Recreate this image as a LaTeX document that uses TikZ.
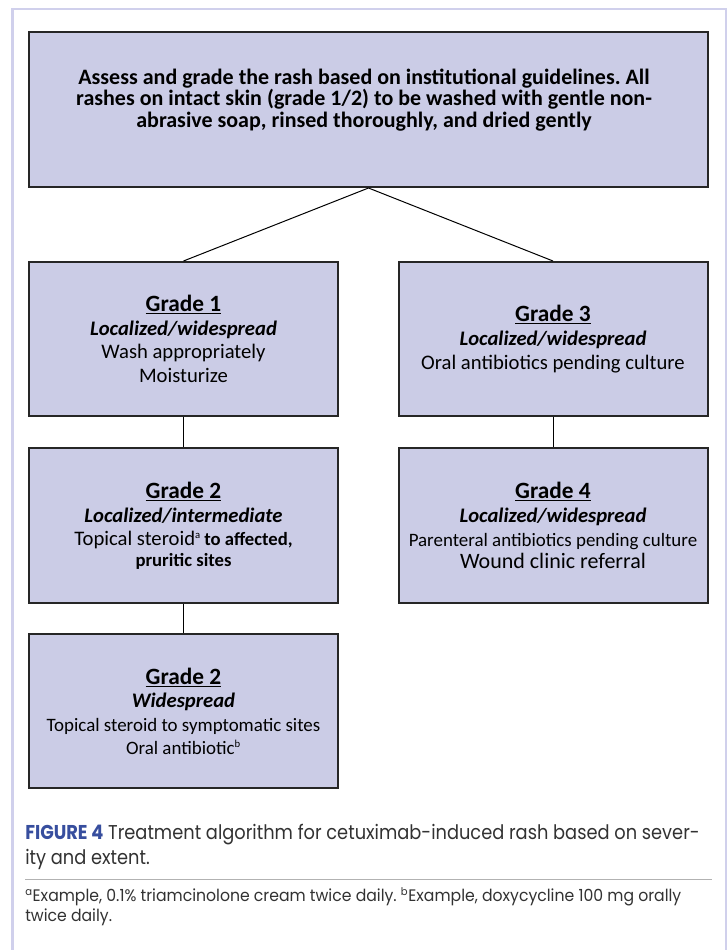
\documentclass[tikz,border=0pt]{standalone}
\usepackage{fontspec}
\setmainfont{Carlito}
\newfontfamily\capfont[FakeStretch=0.89]{Poppins}
\newfontfamily\fnfont[FakeStretch=0.94]{Poppins}
\definecolor{boxfill}{RGB}{203,204,230}
\definecolor{framecol}{RGB}{208,208,236}
\definecolor{figblue}{RGB}{55,78,158}
\definecolor{captext}{RGB}{50,50,50}
\newcommand{\ghead}[1]{{\fontsize{17.5}{17.8}\selectfont\bfseries\underline{#1}}}
\newcommand{\gsub}[1]{{\bfseries\itshape #1}}
\newcommand{\smsup}[1]{\textsuperscript{\fontsize{8}{8}\selectfont #1}}
\frenchspacing
\tikzset{
  boxnode/.style={draw=black!85, line width=1.5pt, fill=boxfill,
    minimum width={309*0.75pt}, minimum height={154*0.75pt},
    align=center, inner sep=0pt, font=\fontsize{15.5}{17.8}\selectfont},
  link/.style={draw=black, line width=0.75pt},
  captxt/.style={anchor=base west, inner sep=0pt, text=captext}
}
\begin{document}
\begin{tikzpicture}[x=0.75pt,y=-0.75pt]
\useasboundingbox (0,0) rectangle (728,950);
% frame
\draw[framecol, line width=1.9pt] (12.7,955) -- (12.7,9) -- (726,9) -- (726,955);
% boxes
\node[boxnode, minimum width={679*0.75pt}, minimum height={155*0.75pt}] (top) at (368.5,109.5) {};
\node[align=center, inner sep=0pt, font=\fontsize{16.5}{16.1}\selectfont\bfseries] (toptext) at (364,100)
  {Assess and grade the rash based on institutional guidelines. All\\
   rashes on intact skin (grade 1/2) to be washed with gentle non-\\
   abrasive soap, rinsed thoroughly, and dried gently};
\node[boxnode] (g1) at (183.5,339)
  {\ghead{Grade 1}\\ \gsub{Localized/widespread}\\ Wash appropriately\\ Moisturize};
\node[boxnode] (g3) at (553,339)
  {\ghead{Grade 3}\\ \gsub{Localized/widespread}\\ Oral antibiotics pending culture};
\node[boxnode, minimum height={155*0.75pt}] (g2) at (183.5,525.5)
  {\ghead{Grade 2}\\ \gsub{Localized/intermediate}\\
   Topical steroid\smsup{a}\,{\fontsize{14}{16}\selectfont\bfseries to affected,}\\[-2.5pt]
   {\fontsize{14}{16}\selectfont\bfseries pruritic sites}};
\node[boxnode, minimum height={155*0.75pt}] (g4) at (553,525.5)
  {\ghead{Grade 4}\\ \gsub{Localized/widespread}\\
   {\fontsize{14.2}{16}\selectfont Parenteral antibiotics pending culture}\\[-1pt]
   {\fontsize{16.5}{16}\selectfont Wound clinic referral}};
\node[boxnode] (g2w) at (183.5,711)
  {\ghead{Grade 2}\\ \gsub{Widespread}\\
   {\fontsize{14.2}{16}\selectfont Topical steroid to symptomatic sites}\\[-1pt]
   {\fontsize{14.2}{16}\selectfont Oral antibiotic\smsup{b}}};
% connectors
\draw[link] (top.south) -- (g1.north);
\draw[link] (top.south) -- (g3.north);
\draw[link] (g1.south) -- (g2.north);
\draw[link] (g3.south) -- (g4.north);
\draw[link] (g2.south) -- (g2w.north);
% caption
\node[captxt, font=\capfont\fontsize{15}{18}\selectfont] (cap1) at (25,839.5)
  {{\bfseries\color{figblue}FIGURE 4} Treatment algorithm for cetuximab-induced rash based on sever-};
\node[captxt, font=\capfont\fontsize{15}{18}\selectfont] (cap2) at (25,864)
  {ity and extent.};
\coordinate (sepL) at (25,879);
\coordinate (sepR) at (712,879);
\draw[black!30, line width=0.75pt] (sepL) -- (sepR);
\node[captxt, font=\fnfont\fontsize{12.5}{14}\selectfont] (fn1) at (25,901.5)
  {\smsup{a}Example, 0.1\% triamcinolone cream twice daily. \smsup{b}Example, doxycycline 100 mg orally};
\node[captxt, font=\fnfont\fontsize{12.5}{14}\selectfont] (fn2) at (25,921)
  {twice daily.};
\end{tikzpicture}
\end{document}
